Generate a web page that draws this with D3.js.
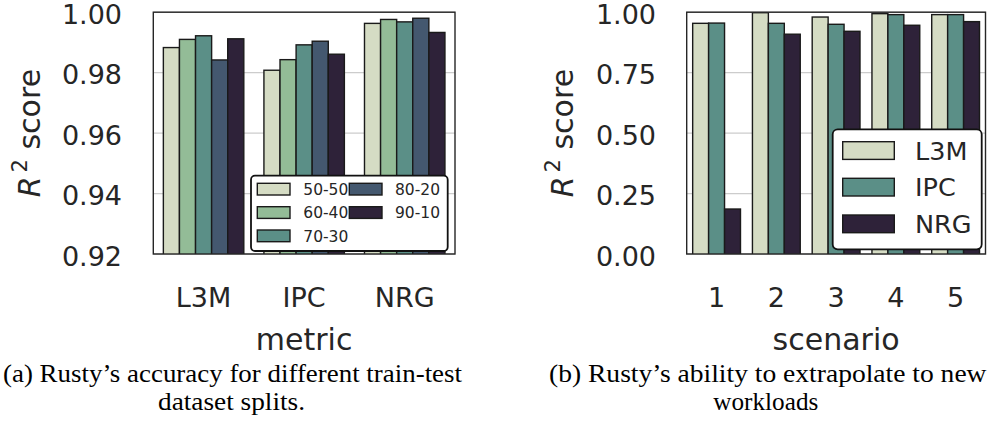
<!DOCTYPE html>
<html><head><meta charset="utf-8">
<script src="https://cdn.jsdelivr.net/npm/d3@7"></script>
<style>body{margin:0;background:#fff} svg{display:block}</style>
</head><body><svg id="c" width="988" height="421"></svg>
<script>
// ---- data (a) ----
const metrics = ["L3M", "IPC", "NRG"];
const splits = ["50-50", "60-40", "70-30", "80-20", "90-10"];
const split_50_50 = [0.9883, 0.9808, 0.9963];
const split_60_40 = [0.9910, 0.9843, 0.9976];
const split_70_30 = [0.9922, 0.9892, 0.9968];
const split_80_20 = [0.9842, 0.9904, 0.9980];
const split_90_10 = [0.9912, 0.9861, 0.9933];
const yTicksA = [0.92, 0.94, 0.96, 0.98, 1.00];

// ---- data (b) ----
const scenarios = ["1", "2", "3", "4", "5"];
const seriesB = ["L3M", "IPC", "NRG"];
const b_L3M = [0.954, 0.998, 0.980, 0.994, 0.990];
const b_IPC = [0.955, 0.954, 0.950, 0.990, 0.990];
const b_NRG = [0.186, 0.909, 0.921, 0.946, 0.961];
const yTicksB = [0.00, 0.25, 0.50, 0.75, 1.00];

const colorsA = ["#d5dcc4", "#93bc97", "#5b8f87", "#44586f", "#2e2239"];
const colorsB = ["#d5dcc4", "#5b8f87", "#2e2239"];

const svg = d3.select("#c");
const FONT = "DejaVu Sans";
const TXT = "#262626";

function panel(opt) {
  const {x0, x1, y0, y1, cats, hues, values, colors, yDomain, yTicks, xLabel, labelRight, ylabX, id} = opt;
  const W = x1 - x0, H = y1 - y0;
  const g = svg.append("g").attr("transform", `translate(${x0},${y0})`);
  const y = d3.scaleLinear().domain(yDomain).range([H, 0]);
  const x = d3.scaleBand().domain(cats).range([0, W]).paddingInner(0.2).paddingOuter(0.1);
  const xh = d3.scaleBand().domain(hues).range([0, x.bandwidth()]);

  // grid
  g.append("g").selectAll("line").data(yTicks).join("line")
    .attr("x1", 0).attr("x2", W).attr("y1", d => y(d)).attr("y2", d => y(d))
    .attr("stroke", "#cccccc").attr("stroke-width", 1.3);

  // clip
  svg.append("clipPath").attr("id", id).append("rect")
    .attr("x", 0).attr("y", 0).attr("width", W).attr("height", H);
  const bars = g.append("g").attr("clip-path", `url(#${id})`);
  hues.forEach((h, hi) => {
    bars.append("g").selectAll("rect").data(values[hi]).join("rect")
      .attr("x", (d, i) => x(cats[i]) + xh(h))
      .attr("width", xh.bandwidth())
      .attr("y", d => y(d))
      .attr("height", d => Math.max(0, y(yDomain[0]) - y(d) + 20))
      .attr("fill", colors[hi])
      .attr("stroke", "#1a1a1a").attr("stroke-width", 1.4);
  });

  // frame
  g.append("rect").attr("x", 0).attr("y", 0).attr("width", W).attr("height", H)
    .attr("fill", "none").attr("stroke", "#262626").attr("stroke-width", 1.4);

  // y axis
  const ya = g.append("g").call(d3.axisLeft(y).tickValues(yTicks).tickFormat(d3.format(".2f")).tickSize(0).tickPadding(labelRight));
  ya.select(".domain").remove();
  ya.selectAll("text").attr("dy", 11).attr("font-family", FONT).attr("font-size", 27).attr("fill", TXT);

  // x axis
  const xa = g.append("g").attr("transform", `translate(0,${H})`).call(d3.axisBottom(x).tickSize(0));
  xa.select(".domain").remove();
  xa.selectAll("text").attr("y", 52.7).attr("dy", 0).attr("font-family", FONT).attr("font-size", 27).attr("fill", TXT);

  // x label
  g.append("text").attr("x", W / 2).attr("y", 350 - y0).attr("text-anchor", "middle")
    .attr("font-family", FONT).attr("font-size", 30).attr("fill", TXT).text(xLabel);

  // y label
  const yl = svg.append("text").attr("transform", `translate(${ylabX},${y0 + H / 2}) rotate(-90)`)
    .attr("text-anchor", "middle").attr("font-family", FONT).attr("font-size", 30).attr("fill", TXT);
  yl.append("tspan").attr("font-style", "italic").text("R");
  yl.append("tspan").attr("font-size", 21).attr("dy", -13).attr("dx", 4).text("2");
  yl.append("tspan").attr("dy", 13).text("\u00a0score");
  return {g, x, y};
}

const pa = panel({x0: 153.3, x1: 455, y0: 12.2, y1: 254, cats: metrics, hues: splits,
  values: [split_50_50, split_60_40, split_70_30, split_80_20, split_90_10], colors: colorsA,
  yDomain: [0.92, 1.0], yTicks: yTicksA, xLabel: "metric", labelRight: 31.3, ylabX: 40, id: "clipA"});

const pb = panel({x0: 686.7, x1: 985.5, y0: 12.2, y1: 254, cats: scenarios, hues: seriesB,
  values: [b_L3M, b_IPC, b_NRG], colors: colorsB,
  yDomain: [0, 1.0], yTicks: yTicksB, xLabel: "scenario", labelRight: 30.7, ylabX: 573, id: "clipB"});

// legend (a)
{
  const lg = svg.append("g");
  lg.append("rect").attr("x", 251).attr("y", 175.7).attr("width", 196.7).attr("height", 75.3)
    .attr("rx", 4).attr("fill", "#fff").attr("stroke", "#111").attr("stroke-width", 1.8);
  const cols = [[257.3, 303.3], [349.3, 395]];
  const rows = [183.3, 206.7, 230];
  splits.forEach((s, i) => {
    const c = i < 3 ? 0 : 1, r = i < 3 ? i : i - 3;
    lg.append("rect").attr("x", cols[c][0]).attr("y", rows[r]).attr("width", 32.7).attr("height", 11.7)
      .attr("fill", colorsA[i]).attr("stroke", "#1a1a1a").attr("stroke-width", 1.4);
    lg.append("text").attr("x", cols[c][1]).attr("y", rows[r] + 11.7).attr("font-family", FONT)
      .attr("font-size", 15.5).attr("fill", TXT).text(s);
  });
}
// legend (b)
{
  const lg = svg.append("g");
  lg.append("rect").attr("x", 832.7).attr("y", 129.3).attr("width", 149).attr("height", 120)
    .attr("rx", 5).attr("fill", "#fff").attr("stroke", "#111").attr("stroke-width", 1.8);
  const rows = [141.7, 178.3, 215];
  seriesB.forEach((s, i) => {
    lg.append("rect").attr("x", 842.7).attr("y", rows[i]).attr("width", 51.6).attr("height", 17.7)
      .attr("fill", colorsB[i]).attr("stroke", "#1a1a1a").attr("stroke-width", 1.4);
    lg.append("text").attr("x", 915).attr("y", rows[i] + 17.8).attr("font-family", FONT)
      .attr("font-size", 25.5).attr("fill", TXT).text(s);
  });
}

// captions
const SERIF = "Liberation Serif";
function cap(txt, x, y, len) {
  const t = svg.append("text").attr("x", x).attr("y", y).attr("font-family", SERIF).attr("font-size", 24.3)
    .attr("fill", "#000").text(txt);
  if (len) t.attr("textLength", len).attr("lengthAdjust", "spacingAndGlyphs");
  return t;
}
cap("(a) Rusty\u2019s accuracy for different train-test", 3, 381.7, 459);
cap("dataset splits.", 158, 410, 147);
cap("(b) Rusty\u2019s ability to extrapolate to new", 549, 381.7, 437.5);
cap("workloads", 713.3, 410, 105);
</script></body></html>
